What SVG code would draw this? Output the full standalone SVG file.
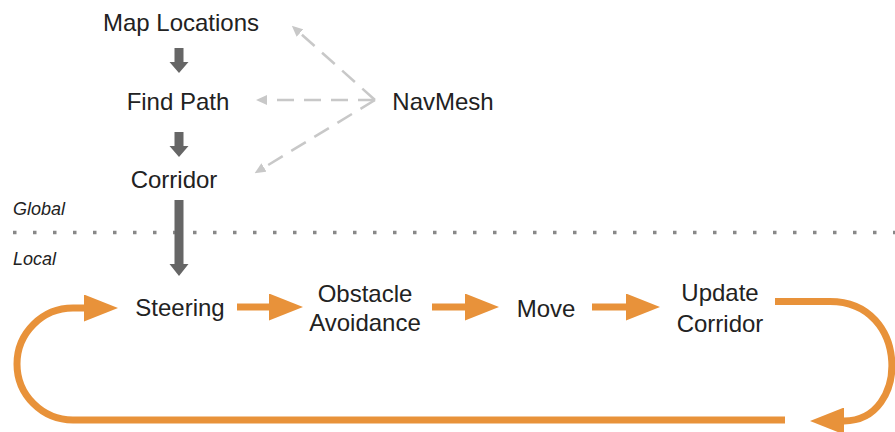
<svg xmlns="http://www.w3.org/2000/svg" width="895" height="432" viewBox="0 0 895 432">
<style>
  .t{font-family:"Liberation Sans",Arial,sans-serif;font-size:24px;fill:#222;text-anchor:middle}
  .lab{font-family:"Liberation Sans",Arial,sans-serif;font-size:18px;font-style:italic;fill:#222}
  .dash{stroke:#c8c8c8;stroke-width:2.5;fill:none;stroke-dasharray:17 10}
  .or{stroke:#E8923A;stroke-width:7;fill:none}
  .dk{fill:#666}
</style>
<defs>
  <marker id="gh" markerUnits="userSpaceOnUse" markerWidth="11" markerHeight="10" refX="0" refY="5" orient="auto">
    <path d="M0,0 L11,5 L0,10 z" fill="#c8c8c8"/>
  </marker>
  <marker id="oh" markerUnits="userSpaceOnUse" markerWidth="34" markerHeight="27" refX="0" refY="13.5" orient="auto">
    <path d="M0,0 L34,13.5 L0,27 z" fill="#E8923A"/>
  </marker>
</defs>
<rect width="895" height="432" fill="#fff"/>

<g id="divider">
  <line x1="13" y1="232.5" x2="895" y2="232.5" stroke="#888" stroke-width="3.5" stroke-dasharray="3.5 16.5"/>
  <text class="lab" x="13" y="215">Global</text>
  <text class="lab" x="13" y="265">Local</text>
</g>

<g id="connectors">
  <path class="dk" d="M174.5,48 H183.5 V62 H188.5 L179,73 L169.5,62 H174.5 Z"/>
  <path class="dk" d="M174.5,132 H183.5 V146 H188.5 L179,157 L169.5,146 H174.5 Z"/>
  <path class="dk" d="M174.5,200 H183.5 V264 H188.5 L179,276 L169.5,264 H174.5 Z"/>
  <line class="dash" x1="375" y1="100" x2="300" y2="33" marker-end="url(#gh)"/>
  <line class="dash" x1="375" y1="100" x2="267" y2="100" marker-end="url(#gh)"/>
  <line class="dash" x1="375" y1="100" x2="264" y2="167.5" marker-end="url(#gh)"/>
  <line class="or" x1="237" y1="307" x2="269" y2="307" marker-end="url(#oh)"/>
  <line class="or" x1="432" y1="307" x2="465" y2="307" marker-end="url(#oh)"/>
  <line class="or" x1="592" y1="307" x2="626" y2="307" marker-end="url(#oh)"/>
  <path class="or" d="M775,301.5 H830 C910,301.5 910,421 844,421" marker-end="url(#oh)"/>
  <path class="or" d="M785,420 H73 A56,56 0 0 1 73,308 H84" marker-end="url(#oh)"/>
</g>

<g id="map-locations"><text class="t" x="181" y="31">Map Locations</text></g>
<g id="find-path"><text class="t" x="178" y="110">Find Path</text></g>
<g id="corridor"><text class="t" x="174" y="188">Corridor</text></g>
<g id="navmesh"><text class="t" x="443" y="110">NavMesh</text></g>
<g id="steering"><text class="t" x="180" y="316">Steering</text></g>
<g id="obstacle-avoidance"><text class="t" x="365" y="302">Obstacle</text><text class="t" x="365" y="331">Avoidance</text></g>
<g id="move"><text class="t" x="546" y="317">Move</text></g>
<g id="update-corridor"><text class="t" x="720" y="301">Update</text><text class="t" x="720" y="332">Corridor</text></g>
</svg>
